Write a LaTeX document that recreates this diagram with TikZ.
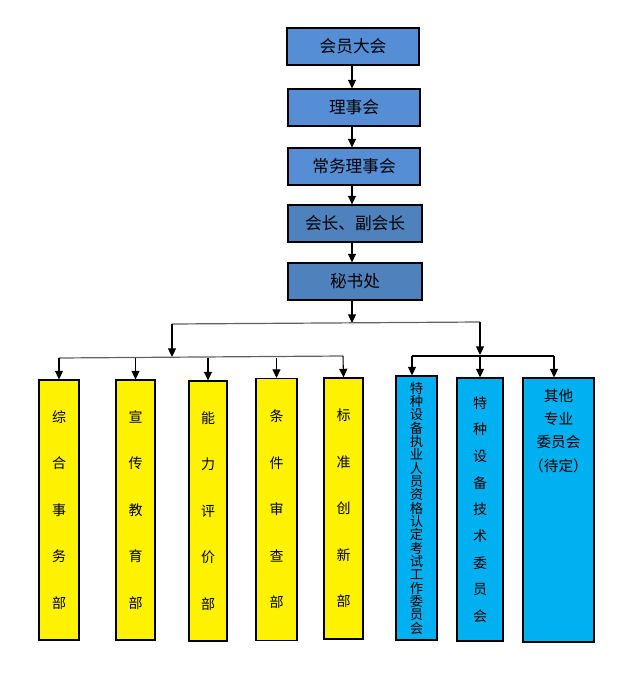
\documentclass[tikz,border=0pt]{standalone}
\usepackage{fontspec}
\newfontfamily\cjk{Noto Sans CJK SC}
\usetikzlibrary{arrows.meta}
\definecolor{topA}{HTML}{558ED5}
\definecolor{topB}{HTML}{4F81BD}
\definecolor{cyanbox}{HTML}{00B0F0}
\definecolor{barline}{HTML}{606060}
\begin{document}
\begin{tikzpicture}[x=0.75pt,y=-0.75pt,
  box/.style={draw=black,line width=0.8pt,inner sep=0pt},
  topbox/.style={box,fill=topA,minimum width=99pt,minimum height=27.75pt,font=\cjk\fontsize{12.5}{15}\selectfont},
  ybox/.style={box,fill=yellow,minimum width=30pt,minimum height=195pt,align=center,font=\cjk\fontsize{10.5}{34.9}\selectfont},
  cbox/.style={box,fill=cyanbox,minimum height=198pt,align=center},
  arr/.style={line width=0.8pt,-{Triangle[width=6pt,length=6.5pt]}},
  bar/.style={line width=0.9pt,draw=barline}]
\useasboundingbox (0,0) rectangle (624,681);
% top chain
\node[topbox] (a) at (353,46.5) {会员大会};
\node[topbox] (b) at (354,107.5) {理事会};
\node[topbox] (c) at (354,166.5) {常务理事会};
\node[topbox,fill=topB,minimum width=100.5pt] (d) at (355,223.5) {会长、副会长};
\node[topbox,fill=topB,minimum width=100.5pt] (e) at (355,281.5) {秘书处};
\draw[arr] (a.south -| 352,0) -- (b.north -| 352,0);
\draw[arr] (b.south -| 352,0) -- (c.north -| 352,0);
\draw[arr] (c.south -| 352,0) -- (d.north -| 352,0);
\draw[arr] (d.south -| 352,0) -- (e.north -| 352,0);
% bars
\coordinate (m) at (352,323);
\coordinate (jL) at (172,324);
\coordinate (jR) at (480,322);
\draw[arr] (e.south -| m) -- (m);
\draw[bar] (jL) -- (jR);
% yellow boxes
\node[ybox] (y1) at (59,510) {综\\合\\事\\务\\部};
\node[ybox,minimum width=29.25pt] (y2) at (135.5,510) {宣\\传\\教\\育\\部};
\node[ybox,minimum width=28.5pt] (y3) at (208,511) {能\\力\\评\\价\\部};
\node[ybox,minimum width=30.75pt,minimum height=196.5pt] (y4) at (276.5,509.5) {条\\件\\审\\查\\部};
\node[ybox,minimum width=29.25pt,minimum height=195.75pt] (y5) at (343.5,508.5) {标\\准\\创\\新\\部};
\coordinate (lb) at (172,357);
\draw[arr] (jL) -- (lb);
\coordinate (lbL) at (59,358);
\coordinate (lbR) at (343,356);
\draw[bar] (lbL) -- (lbR);
\draw[arr] (lbL) -- (y1.north);
\draw[arr] (y2.north |- lbL) -- (y2.north);
\draw[arr] (y3.north |- lbL) -- (y3.north);
\draw[arr] (y4.north |- lbL) -- (y4.north);
\draw[arr] (lbR) -- (y5.north);
% cyan boxes
\node[cbox,minimum width=30.75pt,font=\cjk\fontsize{10}{10}\selectfont] (c1) at (416.5,508)
  {特\\种\\设\\备\\执\\业\\人\\员\\资\\格\\认\\定\\考\\试\\工\\作\\委\\员\\会};
\node[cbox,minimum width=34.5pt,minimum height=197.25pt,font=\cjk\fontsize{10.5}{20}\selectfont] (c2) at (480,509.5)
  {特\\种\\设\\备\\技\\术\\委\\员\\会};
\node[cbox,minimum width=53.25pt,label={[anchor=north,yshift=-5pt,align=center,font=\cjk\fontsize{11}{17.5}\selectfont]north:其他\\专业\\委员会\\（待定）}] (c3) at (558.5,510) {};
\coordinate (rb) at (480,355);
\draw[arr] (jR) -- (rb);
\coordinate (rbL) at (412,356);
\coordinate (rbR) at (554,356);
\draw[line width=0.8pt] (rbL) -- (rbR);
\draw[arr] (rbL) -- (rbL |- c1.north);
\draw[arr] (rb) -- (c2.north);
\draw[arr] (rbR) -- (rbR |- c3.north);
\end{tikzpicture}
\end{document}
